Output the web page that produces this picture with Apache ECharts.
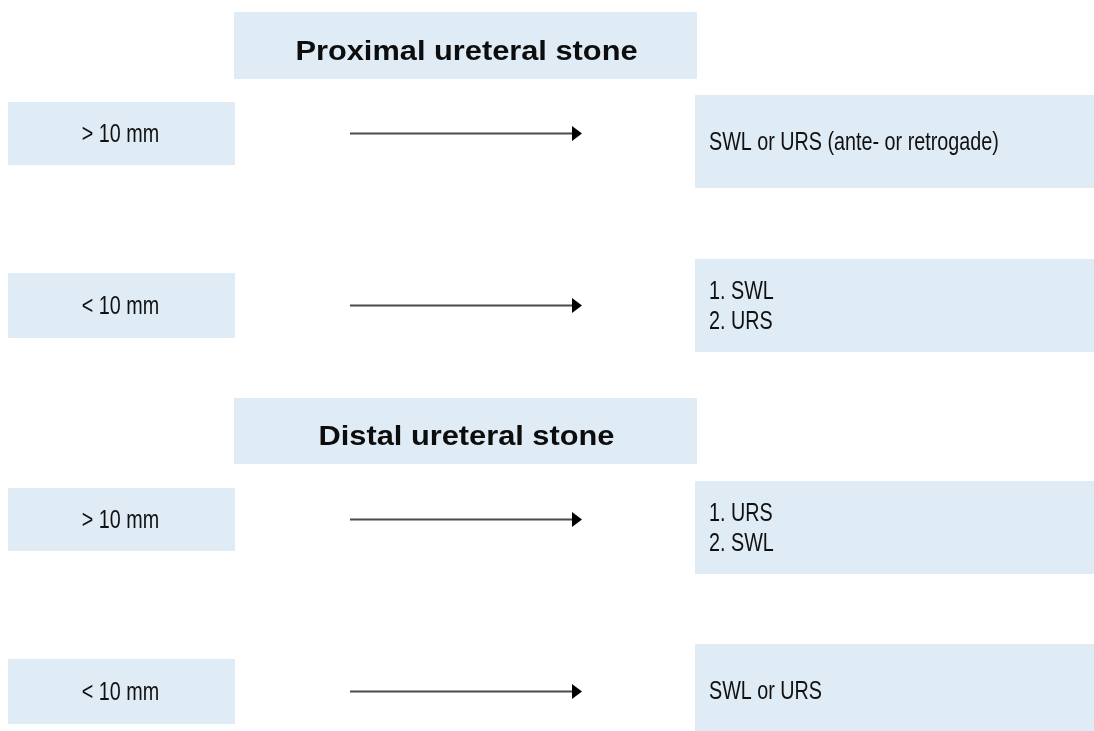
<!DOCTYPE html>
<html>
<head>
<meta charset="utf-8">
<script src="https://cdn.jsdelivr.net/npm/echarts@6/dist/echarts.min.js"></script>
<style>
  html, body { margin: 0; padding: 0; background: #ffffff; }
  #chart { width: 1094px; height: 731px; }
</style>
</head>
<body>
<div id="chart"></div>
<script>
// ---- content ----
const titles = ['Proximal ureteral stone', 'Distal ureteral stone'];
const sizeLabels = ['> 10 mm', '< 10 mm', '> 10 mm', '< 10 mm'];
const treatments = ['SWL or URS (ante- or retrogade)', '1. SWL\n2. URS', '1. URS\n2. SWL', 'SWL or URS'];

// ---- layout (diagram units = px on a hidden 1094 x 731 grid) ----
const titleCol = [234, 697];
const leftCol = [8, 235];
const rightCol = [695, 1094];
const arrowCol = [350, 582];
const titleRows = [[12, 79], [398, 464]];
const leftRows = [[102, 165], [273, 338], [488, 551], [659, 724]];
const rightRows = [[95, 188], [259, 352], [481, 574], [644, 737]];

const BOX = '#dfebf5';
const FONT = "'Liberation Sans', Arial, Helvetica, sans-serif";
const NARROW_SCALE = 0.79;   // emulate a condensed face
const TITLE_SCALE = 1.14;

const chart = echarts.init(document.getElementById('chart'), null, { renderer: 'canvas' });

function boxItem(api, x0, x1, y0, y1) {
  const p0 = api.coord([x0, y0]);
  const p1 = api.coord([x1, y1]);
  return { x: p0[0], y: p0[1], width: p1[0] - p0[0], height: p1[1] - p0[1] };
}

const titleData = titles.map((t, i) => [i]);
const rowData = sizeLabels.map((t, i) => [i]);

chart.setOption({
  animation: false,
  grid: { left: 0, right: 0, top: 0, bottom: 0 },
  xAxis: { type: 'value', min: 0, max: 1094, show: false },
  yAxis: { type: 'value', min: 0, max: 731, inverse: true, show: false },
  series: [
    {
      type: 'custom',
      name: 'titles',
      data: titleData,
      clip: false,
      renderItem: function (params, api) {
        const i = api.value(0);
        const r = titleRows[i];
        const s = boxItem(api, titleCol[0], titleCol[1], r[0], r[1]);
        return {
          type: 'group',
          children: [
            { type: 'rect', shape: s, style: { fill: BOX } },
            {
              type: 'text',
              x: s.x + s.width / 2 + 1, y: s.y + s.height / 2 + 7,
              scaleX: TITLE_SCALE,
              style: {
                text: titles[i], x: 0, y: 0,
                align: 'center', verticalAlign: 'middle',
                font: 'bold 27px ' + FONT, fill: '#0d0d0d'
              }
            }
          ]
        };
      }
    },
    {
      type: 'custom',
      name: 'rows',
      data: rowData,
      clip: false,
      renderItem: function (params, api) {
        const i = api.value(0);
        const lr = leftRows[i];
        const rr = rightRows[i];
        const ls = boxItem(api, leftCol[0], leftCol[1], lr[0], lr[1]);
        const rs = boxItem(api, rightCol[0], rightCol[1], rr[0], rr[1]);
        const ay = (lr[0] + lr[1]) / 2;
        const a0 = api.coord([arrowCol[0], ay]);
        const a1 = api.coord([arrowCol[1] - 10, ay]);
        const a2 = api.coord([arrowCol[1], ay]);
        return {
          type: 'group',
          children: [
            { type: 'rect', shape: ls, style: { fill: BOX } },
            {
              type: 'text',
              x: ls.x + ls.width / 2 - 1, y: ls.y + ls.height / 2 + 2,
              scaleX: NARROW_SCALE,
              style: {
                text: sizeLabels[i], x: 0, y: 0,
                align: 'center', verticalAlign: 'middle',
                font: '25px ' + FONT, fill: '#111111'
              }
            },
            { type: 'rect', shape: rs, style: { fill: BOX } },
            {
              type: 'text',
              x: rs.x + 14, y: rs.y + rs.height / 2 + 2,
              scaleX: NARROW_SCALE,
              style: {
                text: treatments[i], x: 0, y: 0,
                align: 'left', verticalAlign: 'middle',
                font: '25px ' + FONT, lineHeight: 30, fill: '#111111'
              }
            },
            {
              type: 'line',
              shape: { x1: a0[0], y1: a0[1], x2: a1[0] + 1, y2: a1[1] },
              style: { stroke: '#4a4a4a', lineWidth: 2 }
            },
            {
              type: 'polygon',
              shape: { points: [[a1[0], a1[1] - 7.5], [a2[0], a2[1]], [a1[0], a1[1] + 7.5]] },
              style: { fill: '#000000' }
            }
          ]
        };
      }
    }
  ]
});
</script>
</body>
</html>
